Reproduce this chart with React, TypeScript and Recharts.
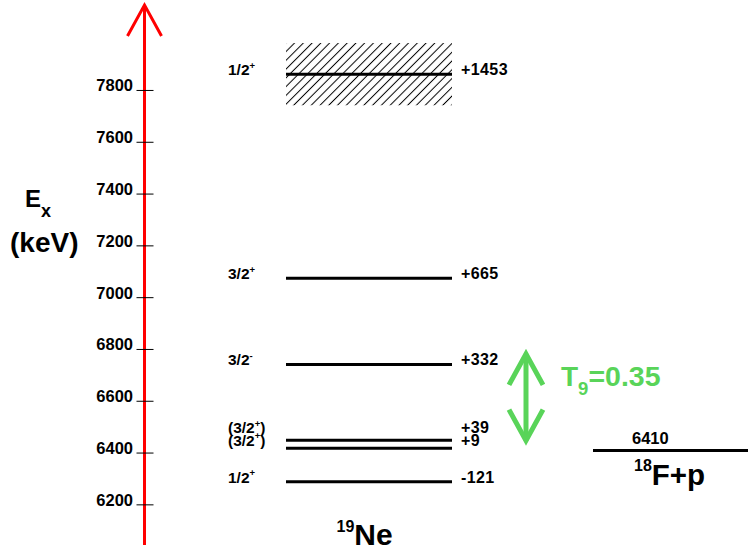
import React from 'react';
import { ComposedChart, XAxis, YAxis, ReferenceLine, ReferenceArea, ReferenceDot } from 'recharts';

// ---- data ----
const threshold = 6410; // 18F+p threshold energy (keV)
const levelOffsets = [-121, 9, 39, 332, 665, 1453]; // E_r relative to threshold (keV)
const levelSpins = ['1/2+', '(3/2+)', '(3/2+)', '3/2-', '3/2+', '1/2+'];
const levelWidths = [0, 0, 0, 0, 0, 240]; // hatched width (keV)
const yTicks = [6200, 6400, 6600, 6800, 7000, 7200, 7400, 7600, 7800];
const gamowWindow = [6448, 6783];
const gamowLabelMain = 'T';
const gamowLabelSub = '9';
const gamowLabelValue = '=0.35';

// ---- layout ----
const W = 748;
const H = 551;
const AXIS_X = 144.5;
const Y_DOMAIN: [number, number] = [6045, 8130];
const LEVEL_X1 = 286;
const LEVEL_X2 = 452;
const THR_X1 = 593;
const GAMOW_X = 526;
const FONT = '"Liberation Sans", Arial, Helvetica, sans-serif';
const GREEN = '#59D459';
const labelNudge: Record<number, number> = { 1: -3.5, 2: -8 };

const levels = levelOffsets.map((o, i) => ({
  offset: o,
  energy: threshold + o,
  spin: levelSpins[i],
  width: levelWidths[i],
}));

function SpinText({ x, y, spin }: { x: number; y: number; spin: string }) {
  const m = spin.match(/^(\(?\d\/\d)([+-])(\)?)$/);
  const base = m ? m[1] : spin;
  const sup = m ? m[2] : '';
  const tail = m ? m[3] : '';
  return (
    <text x={x} y={y} fontSize={15.5} fontWeight="bold" fontFamily={FONT} fill="#000">
      {base}
      <tspan fontSize={9.5} dy={-6.5}>{sup}</tspan>
      {tail ? <tspan fontSize={15.5} dy={6.5}>{tail}</tspan> : null}
    </text>
  );
}

const YTick = (props: any) => {
  const { y, payload } = props;
  return (
    <g>
      <line x1={AXIS_X - 8} x2={AXIS_X + 9} y1={y} y2={y} stroke="#000" strokeWidth={1} />
      <text x={AXIS_X - 11.5} y={y + 1} textAnchor="end" fontSize={16.5} fontWeight="bold" fontFamily={FONT} fill="#000">
        {payload.value}
      </text>
    </g>
  );
};

export default function App() {
  return (
    <div style={{ position: 'absolute', left: 0, top: 0, background: '#fff' }}>
      <ComposedChart width={W} height={H} margin={{ top: 5, right: 0, bottom: 6, left: 0 }}>
        <defs>
          <pattern id="hatch" patternUnits="userSpaceOnUse" width="6.2" height="6.2" patternTransform="rotate(45)">
            <line x1="3.1" y1="0" x2="3.1" y2="6.2" stroke="#000" strokeWidth="1" />
          </pattern>
        </defs>
        <XAxis type="number" dataKey="x" domain={[AXIS_X, W]} hide allowDataOverflow />
        <YAxis
          type="number"
          domain={Y_DOMAIN}
          ticks={yTicks}
          width={AXIS_X}
          axisLine={{ stroke: '#ff0000', strokeWidth: 3 }}
          tickLine={false}
          tick={<YTick />}
          interval={0}
          allowDataOverflow
        />
        {levels
          .filter((l) => l.width > 0)
          .map((l, i) => (
            <ReferenceArea
              key={'w' + i}
              x1={LEVEL_X1}
              x2={LEVEL_X2}
              y1={l.energy - l.width / 2}
              y2={l.energy + l.width / 2}
              fill="url(#hatch)"
              fillOpacity={1}
              stroke="none"
              ifOverflow="visible"
            />
          ))}
        {levels.map((l, i) => (
          <ReferenceLine
            key={'l' + i}
            segment={[
              { x: LEVEL_X1, y: l.energy },
              { x: LEVEL_X2, y: l.energy },
            ]}
            stroke="#000"
            strokeWidth={3}
            ifOverflow="visible"
          />
        ))}
        {levels.map((l, i) => (
          <ReferenceDot
            key={'t' + i}
            x={LEVEL_X1}
            y={l.energy}
            r={0}
            ifOverflow="visible"
            shape={(p: any) => {
              const by = p.cy + 1 + (labelNudge[i] || 0);
              return (
                <g>
                  <SpinText x={228} y={by} spin={l.spin} />
                  <text x={461} y={by} fontSize={16} letterSpacing={0.4} fontWeight="bold" fontFamily={FONT} fill="#000">
                    {(l.offset > 0 ? '+' : '') + l.offset}
                  </text>
                </g>
              );
            }}
          />
        ))}
        <ReferenceLine
          segment={[
            { x: THR_X1, y: threshold },
            { x: W, y: threshold },
          ]}
          stroke="#000"
          strokeWidth={3}
          ifOverflow="visible"
        />
        <ReferenceDot
          x={(THR_X1 + W) / 2}
          y={threshold}
          r={0}
          ifOverflow="visible"
          shape={(p: any) => (
            <g fontFamily={FONT} fontWeight="bold" fill="#000">
              <text x={632} y={p.cy - 6.5} fontSize={16.5}>
                {threshold}
              </text>
              <text x={634} y={p.cy + 21}>
                <tspan fontSize={16}>18</tspan>
                <tspan fontSize={29.5} dy={14}>F+p</tspan>
              </text>
            </g>
          )}
        />
        <ReferenceLine
          segment={[
            { x: GAMOW_X, y: gamowWindow[0] },
            { x: GAMOW_X, y: gamowWindow[1] },
          ]}
          ifOverflow="visible"
          shape={(p: any) => {
            const x = p.x1;
            const top = Math.min(p.y1, p.y2);
            const bot = Math.max(p.y1, p.y2);
            return (
              <g stroke={GREEN} strokeWidth={5} fill="none">
                <line x1={x} y1={top} x2={x} y2={bot} />
                <polyline points={`${x - 17},${top + 31} ${x},${top} ${x + 17},${top + 31}`} />
                <polyline points={`${x - 17},${bot - 31} ${x},${bot} ${x + 17},${bot - 31}`} />
              </g>
            );
          }}
        />
        <ReferenceDot
          x={GAMOW_X}
          y={(gamowWindow[0] + gamowWindow[1]) / 2}
          r={0}
          ifOverflow="visible"
          shape={(p: any) => (
            <text x={561} y={p.cy - 11} fontFamily={FONT} fontWeight="bold" fill={GREEN}>
              <tspan fontSize={28}>{gamowLabelMain}</tspan>
              <tspan fontSize={18.5} dy={9}>{gamowLabelSub}</tspan>
              <tspan fontSize={28.5} dy={-9}>{gamowLabelValue}</tspan>
            </text>
          )}
        />
        <ReferenceDot
          x={AXIS_X}
          y={Y_DOMAIN[1]}
          r={0}
          ifOverflow="visible"
          shape={(p: any) => (
            <polyline
              points={`${p.cx - 17},${p.cy + 31} ${p.cx},${p.cy} ${p.cx + 17},${p.cy + 31}`}
              stroke="#ff0000"
              strokeWidth={3}
              fill="none"
            />
          )}
        />
        <text x={25} y={206.5} fontFamily={FONT} fontWeight="bold" fill="#000">
          <tspan fontSize={24}>E</tspan>
          <tspan fontSize={18} dy={10}>x</tspan>
        </text>
        <text x={10} y={252} fontFamily={FONT} fontWeight="bold" fontSize={28} fill="#000">
          (keV)
        </text>
        <text x={336.5} y={532} fontFamily={FONT} fontWeight="bold" fill="#000">
          <tspan fontSize={16}>19</tspan>
          <tspan fontSize={30} dy={13}>Ne</tspan>
        </text>
      </ComposedChart>
    </div>
  );
}
